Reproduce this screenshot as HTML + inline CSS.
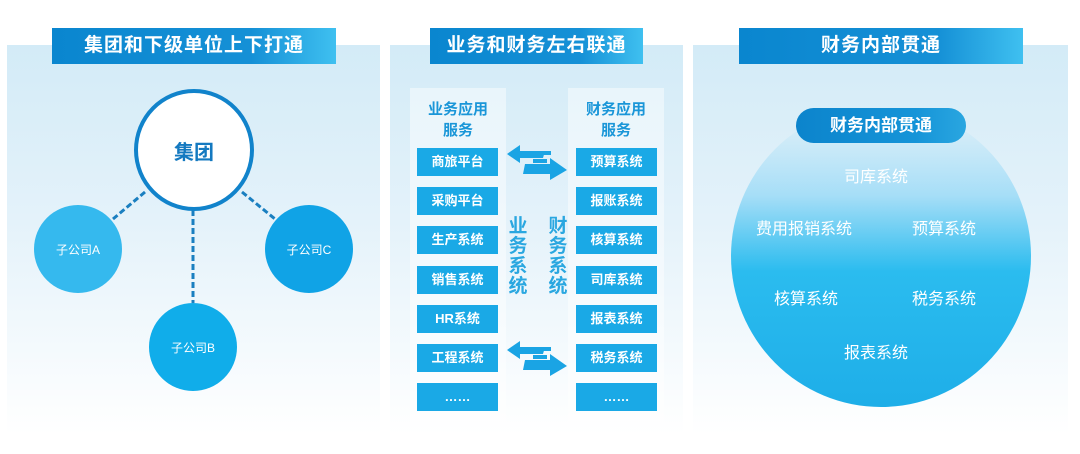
<!DOCTYPE html>
<html><head><meta charset="utf-8"><style>
*{margin:0;padding:0;box-sizing:border-box}
body{width:1080px;height:454px;background:#fff;position:relative;overflow:hidden;font-family:"Liberation Sans","Noto Sans CJK SC",sans-serif}
.abs{position:absolute}
.panel{position:absolute;top:45px;height:390px;background:linear-gradient(180deg,#d3ebf7 0%,#e4f2fa 45%,#ffffff 100%)}
.title{position:absolute;top:28px;height:36px;background:linear-gradient(90deg,#0a86cf 0%,#1590d6 70%,#3fc0f0 100%);color:#fff;font-size:19px;font-weight:bold;text-align:center;line-height:36px;letter-spacing:1px}
.c{position:absolute;border-radius:50%;color:#fff;font-size:12px;display:flex;align-items:center;justify-content:center}
.col{position:absolute;top:88px;height:338px;width:96px;background:rgba(255,255,255,0.45)}
.box{position:absolute;width:81px;height:28px;background:#1aa9e6;color:#fff;font-size:13px;text-align:center;line-height:28px;font-weight:bold}
.hd{position:absolute;width:96px;text-align:center;color:#1a96d8;font-size:15px;font-weight:bold;line-height:21px}
.vt{position:absolute;width:20px;color:#2aa7e0;font-size:19px;font-weight:bold;line-height:20px;text-align:center}
.t3{position:absolute;color:#fff;font-size:16px}
</style></head><body>
<div class="panel" style="left:7px;width:373px"></div>
<div class="panel" style="left:390px;width:293px"></div>
<div class="panel" style="left:693px;width:375px"></div>
<div class="title" style="left:52px;width:284px">集团和下级单位上下打通</div>
<div class="title" style="left:430px;width:213px">业务和财务左右联通</div>
<div class="title" style="left:739px;width:284px">财务内部贯通</div>

<svg class="abs" style="left:0;top:0" width="400" height="454">
<g stroke="#1a7fc0" stroke-width="3" stroke-dasharray="6,3" fill="none">
<line x1="145" y1="192" x2="113" y2="219"/>
<line x1="193" y1="210" x2="193" y2="303"/>
<line x1="242" y1="192" x2="275" y2="219"/>
</g></svg>
<div class="c" style="left:134px;top:89px;width:120px;height:122px;background:#fff;border:4px solid #1183cb;color:#1479c0;font-size:20px;font-weight:bold">集团</div>
<div class="c" style="left:34px;top:205px;width:88px;height:88px;background:#35b9ee">子公司A</div>
<div class="c" style="left:265px;top:205px;width:88px;height:88px;background:#10a3e6">子公司C</div>
<div class="c" style="left:149px;top:303px;width:88px;height:88px;background:#10adea">子公司B</div>

<div class="col" style="left:410px"></div>
<div class="col" style="left:568px"></div>
<div class="hd" style="left:410px;top:99px">业务应用<br>服务</div>
<div class="hd" style="left:568px;top:99px">财务应用<br>服务</div>
<div class="box" style="left:417px;top:148px">商旅平台</div>
<div class="box" style="left:417px;top:187px">采购平台</div>
<div class="box" style="left:417px;top:226px">生产系统</div>
<div class="box" style="left:417px;top:266px">销售系统</div>
<div class="box" style="left:417px;top:305px">HR系统</div>
<div class="box" style="left:417px;top:344px">工程系统</div>
<div class="box" style="left:417px;top:383px">……</div>
<div class="box" style="left:576px;top:148px">预算系统</div>
<div class="box" style="left:576px;top:187px">报账系统</div>
<div class="box" style="left:576px;top:226px">核算系统</div>
<div class="box" style="left:576px;top:266px">司库系统</div>
<div class="box" style="left:576px;top:305px">报表系统</div>
<div class="box" style="left:576px;top:344px">税务系统</div>
<div class="box" style="left:576px;top:383px">……</div>
<div class="vt" style="left:508px;top:217px">业务系统</div>
<div class="vt" style="left:548px;top:217px">财务系统</div>
<svg class="abs" style="left:505px;top:142px" width="65" height="40">
<g fill="#1aa4e4"><polygon points="2,12 15,3 15,9 40,9 38,16 15,16 15,21"/><polygon points="20,22 45,22 45,16 62,28 45,38 45,32 18,32"/><rect x="38" y="9" width="8" height="4"/><rect x="28" y="17" width="14" height="4"/></g></svg>
<svg class="abs" style="left:505px;top:338px" width="65" height="40">
<g fill="#1aa4e4"><polygon points="2,12 15,3 15,9 40,9 38,16 15,16 15,21"/><polygon points="20,22 45,22 45,16 62,28 45,38 45,32 18,32"/><rect x="38" y="9" width="8" height="4"/><rect x="28" y="17" width="14" height="4"/></g></svg>

<div class="abs" style="left:731px;top:105px;width:300px;height:302px;border-radius:50%;background:linear-gradient(180deg,rgba(255,255,255,0) 5%,#a6def7 30%,#2bbcef 55%,#1eaee8 100%)"></div>
<div class="abs" style="left:796px;top:108px;width:170px;height:35px;border-radius:18px;background:linear-gradient(90deg,#0c84cc,#1594d8 70%,#2aa6e0);color:#fff;font-size:17px;text-align:center;line-height:35px;font-weight:bold">财务内部贯通</div>
<div class="t3" style="left:844px;top:163px">司库系统</div>
<div class="t3" style="left:756px;top:215px">费用报销系统</div>
<div class="t3" style="left:912px;top:215px">预算系统</div>
<div class="t3" style="left:774px;top:285px">核算系统</div>
<div class="t3" style="left:912px;top:285px">税务系统</div>
<div class="t3" style="left:844px;top:339px">报表系统</div>
</body></html>
